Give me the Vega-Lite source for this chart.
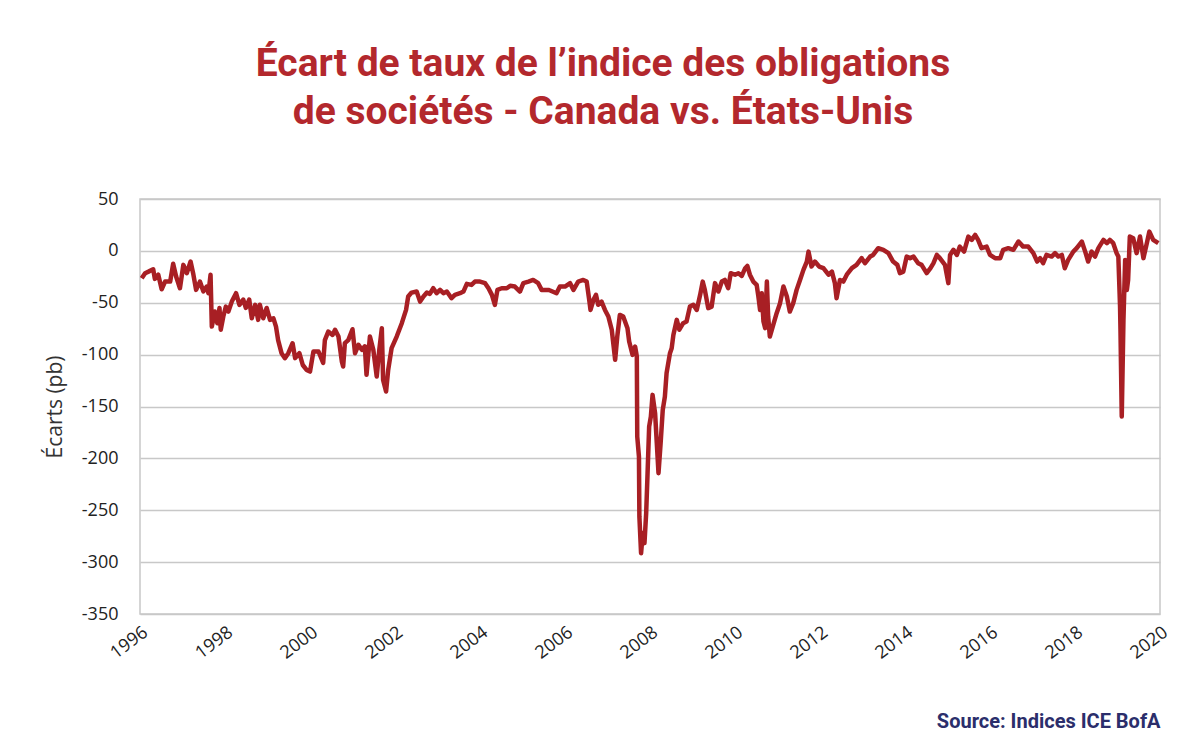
{
  "$schema": "https://vega.github.io/schema/vega-lite/v6.json",
  "width": 1020,
  "height": 415,
  "autosize": {"type": "none"},
  "padding": {"left": 140, "top": 199, "right": 40, "bottom": 131},
  "background": "white",
  "config": {
    "view": {"stroke": "#C8C8C8", "strokeWidth": 1.5},
    "font": "Open Sans"
  },
  "title": {
    "text": ["Écart de taux de l’indice des obligations", "de sociétés - Canada vs. États-Unis"],
    "anchor": "middle",
    "frame": "group",
    "dx": -47,
    "offset": 58,
    "font": "Roboto",
    "fontWeight": "bold",
    "fontSize": 39,
    "lineHeight": 48,
    "color": "#B3282D"
  },
  "data": {
    "values": [
      {"annee": 1996.04, "ecart": -26.3},
      {"annee": 1996.12, "ecart": -21.5},
      {"annee": 1996.20, "ecart": -20},
      {"annee": 1996.31, "ecart": -17.7},
      {"annee": 1996.35, "ecart": -27},
      {"annee": 1996.43, "ecart": -23},
      {"annee": 1996.51, "ecart": -37},
      {"annee": 1996.59, "ecart": -29.6},
      {"annee": 1996.71, "ecart": -29.6},
      {"annee": 1996.78, "ecart": -12.5},
      {"annee": 1996.85, "ecart": -24.7},
      {"annee": 1996.94, "ecart": -36},
      {"annee": 1997.02, "ecart": -13.5},
      {"annee": 1997.10, "ecart": -21.5},
      {"annee": 1997.19, "ecart": -10.3},
      {"annee": 1997.25, "ecart": -21.5},
      {"annee": 1997.32, "ecart": -37.6},
      {"annee": 1997.41, "ecart": -29.6},
      {"annee": 1997.49, "ecart": -39},
      {"annee": 1997.57, "ecart": -34.4},
      {"annee": 1997.61, "ecart": -40.8},
      {"annee": 1997.66, "ecart": -23},
      {"annee": 1997.69, "ecart": -73},
      {"annee": 1997.76, "ecart": -58.5},
      {"annee": 1997.82, "ecart": -69.7},
      {"annee": 1997.87, "ecart": -55},
      {"annee": 1997.90, "ecart": -76},
      {"annee": 1997.96, "ecart": -63.3},
      {"annee": 1998.02, "ecart": -53.7},
      {"annee": 1998.08, "ecart": -58.5},
      {"annee": 1998.16, "ecart": -48.9},
      {"annee": 1998.26, "ecart": -40.8},
      {"annee": 1998.34, "ecart": -52},
      {"annee": 1998.43, "ecart": -47},
      {"annee": 1998.49, "ecart": -55},
      {"annee": 1998.57, "ecart": -47},
      {"annee": 1998.63, "ecart": -65},
      {"annee": 1998.71, "ecart": -52},
      {"annee": 1998.78, "ecart": -66.5},
      {"annee": 1998.82, "ecart": -52},
      {"annee": 1998.90, "ecart": -65},
      {"annee": 1998.98, "ecart": -55},
      {"annee": 1999.06, "ecart": -66.5},
      {"annee": 1999.14, "ecart": -65},
      {"annee": 1999.20, "ecart": -73},
      {"annee": 1999.25, "ecart": -86},
      {"annee": 1999.33, "ecart": -98.6},
      {"annee": 1999.41, "ecart": -103.4},
      {"annee": 1999.49, "ecart": -98.6},
      {"annee": 1999.59, "ecart": -89},
      {"annee": 1999.65, "ecart": -103.4},
      {"annee": 1999.75, "ecart": -98.6},
      {"annee": 1999.83, "ecart": -110},
      {"annee": 1999.92, "ecart": -114.7},
      {"annee": 2000.00, "ecart": -116.3},
      {"annee": 2000.08, "ecart": -97},
      {"annee": 2000.20, "ecart": -97},
      {"annee": 2000.31, "ecart": -108},
      {"annee": 2000.35, "ecart": -86},
      {"annee": 2000.43, "ecart": -77.8},
      {"annee": 2000.53, "ecart": -81},
      {"annee": 2000.59, "ecart": -76},
      {"annee": 2000.67, "ecart": -82.6},
      {"annee": 2000.75, "ecart": -106.7},
      {"annee": 2000.78, "ecart": -111.5},
      {"annee": 2000.82, "ecart": -89},
      {"annee": 2000.90, "ecart": -86},
      {"annee": 2001.00, "ecart": -75.5},
      {"annee": 2001.06, "ecart": -98.6},
      {"annee": 2001.14, "ecart": -90.6},
      {"annee": 2001.22, "ecart": -95.4},
      {"annee": 2001.29, "ecart": -92},
      {"annee": 2001.33, "ecart": -119.5},
      {"annee": 2001.41, "ecart": -82.6},
      {"annee": 2001.49, "ecart": -95.4},
      {"annee": 2001.57, "ecart": -121},
      {"annee": 2001.63, "ecart": -95.4},
      {"annee": 2001.69, "ecart": -74.5},
      {"annee": 2001.72, "ecart": -124.3},
      {"annee": 2001.79, "ecart": -135.6},
      {"annee": 2001.84, "ecart": -114.7},
      {"annee": 2001.92, "ecart": -93.8},
      {"annee": 2002.04, "ecart": -82.6},
      {"annee": 2002.16, "ecart": -69.7},
      {"annee": 2002.26, "ecart": -56.9},
      {"annee": 2002.31, "ecart": -44},
      {"annee": 2002.39, "ecart": -40.2},
      {"annee": 2002.51, "ecart": -39.2},
      {"annee": 2002.59, "ecart": -48.9},
      {"annee": 2002.67, "ecart": -44},
      {"annee": 2002.75, "ecart": -40.2},
      {"annee": 2002.82, "ecart": -41.4},
      {"annee": 2002.90, "ecart": -36},
      {"annee": 2002.98, "ecart": -40.8},
      {"annee": 2003.06, "ecart": -37.6},
      {"annee": 2003.14, "ecart": -40.8},
      {"annee": 2003.22, "ecart": -39.2},
      {"annee": 2003.33, "ecart": -45.6},
      {"annee": 2003.41, "ecart": -42.4},
      {"annee": 2003.53, "ecart": -40.8},
      {"annee": 2003.61, "ecart": -39.2},
      {"annee": 2003.69, "ecart": -31.8},
      {"annee": 2003.80, "ecart": -32.8},
      {"annee": 2003.88, "ecart": -29.6},
      {"annee": 2004.00, "ecart": -29.6},
      {"annee": 2004.12, "ecart": -31.1},
      {"annee": 2004.20, "ecart": -36},
      {"annee": 2004.28, "ecart": -42.4},
      {"annee": 2004.35, "ecart": -52},
      {"annee": 2004.41, "ecart": -37.6},
      {"annee": 2004.51, "ecart": -36},
      {"annee": 2004.63, "ecart": -36},
      {"annee": 2004.71, "ecart": -33.7},
      {"annee": 2004.82, "ecart": -34.4},
      {"annee": 2004.94, "ecart": -39.2},
      {"annee": 2005.02, "ecart": -31.1},
      {"annee": 2005.14, "ecart": -29.6},
      {"annee": 2005.25, "ecart": -28},
      {"annee": 2005.37, "ecart": -31.1},
      {"annee": 2005.45, "ecart": -37.6},
      {"annee": 2005.61, "ecart": -37.6},
      {"annee": 2005.65, "ecart": -38.2},
      {"annee": 2005.80, "ecart": -40.8},
      {"annee": 2005.88, "ecart": -34.4},
      {"annee": 2006.00, "ecart": -34.4},
      {"annee": 2006.12, "ecart": -31.1},
      {"annee": 2006.20, "ecart": -37.6},
      {"annee": 2006.31, "ecart": -29.6},
      {"annee": 2006.43, "ecart": -28},
      {"annee": 2006.51, "ecart": -29.6},
      {"annee": 2006.57, "ecart": -47.2},
      {"annee": 2006.60, "ecart": -56.9},
      {"annee": 2006.67, "ecart": -47.2},
      {"annee": 2006.73, "ecart": -42.4},
      {"annee": 2006.78, "ecart": -52},
      {"annee": 2006.86, "ecart": -48.9},
      {"annee": 2006.94, "ecart": -56.9},
      {"annee": 2007.02, "ecart": -63.3},
      {"annee": 2007.10, "ecart": -76},
      {"annee": 2007.18, "ecart": -105},
      {"annee": 2007.23, "ecart": -82.6},
      {"annee": 2007.29, "ecart": -61.7},
      {"annee": 2007.37, "ecart": -63.3},
      {"annee": 2007.47, "ecart": -74.5},
      {"annee": 2007.51, "ecart": -87.4},
      {"annee": 2007.59, "ecart": -100.2},
      {"annee": 2007.65, "ecart": -92.2},
      {"annee": 2007.69, "ecart": -101.8},
      {"annee": 2007.70, "ecart": -179},
      {"annee": 2007.74, "ecart": -198.3},
      {"annee": 2007.75, "ecart": -256},
      {"annee": 2007.79, "ecart": -291.4},
      {"annee": 2007.83, "ecart": -272},
      {"annee": 2007.87, "ecart": -281.7},
      {"annee": 2007.91, "ecart": -252.8},
      {"annee": 2007.94, "ecart": -217.5},
      {"annee": 2007.98, "ecart": -169.3},
      {"annee": 2008.02, "ecart": -159.7},
      {"annee": 2008.06, "ecart": -138.8},
      {"annee": 2008.12, "ecart": -156.5},
      {"annee": 2008.16, "ecart": -185.3},
      {"annee": 2008.20, "ecart": -214.3},
      {"annee": 2008.25, "ecart": -185.3},
      {"annee": 2008.30, "ecart": -153.3},
      {"annee": 2008.35, "ecart": -140.4},
      {"annee": 2008.39, "ecart": -117.9},
      {"annee": 2008.47, "ecart": -98.6},
      {"annee": 2008.51, "ecart": -93.8},
      {"annee": 2008.55, "ecart": -81},
      {"annee": 2008.63, "ecart": -66.5},
      {"annee": 2008.69, "ecart": -76},
      {"annee": 2008.78, "ecart": -69.7},
      {"annee": 2008.86, "ecart": -68.1},
      {"annee": 2008.94, "ecart": -53.7},
      {"annee": 2009.02, "ecart": -52},
      {"annee": 2009.10, "ecart": -56.9},
      {"annee": 2009.18, "ecart": -42.4},
      {"annee": 2009.24, "ecart": -29.6},
      {"annee": 2009.29, "ecart": -37.6},
      {"annee": 2009.37, "ecart": -55.2},
      {"annee": 2009.45, "ecart": -53.7},
      {"annee": 2009.53, "ecart": -31.1},
      {"annee": 2009.61, "ecart": -39.2},
      {"annee": 2009.69, "ecart": -29.6},
      {"annee": 2009.76, "ecart": -28},
      {"annee": 2009.84, "ecart": -36},
      {"annee": 2009.90, "ecart": -21.5},
      {"annee": 2010.00, "ecart": -23},
      {"annee": 2010.08, "ecart": -21.5},
      {"annee": 2010.16, "ecart": -24.1},
      {"annee": 2010.24, "ecart": -16.7},
      {"annee": 2010.29, "ecart": -14.5},
      {"annee": 2010.35, "ecart": -23},
      {"annee": 2010.43, "ecart": -29.6},
      {"annee": 2010.51, "ecart": -32.8},
      {"annee": 2010.55, "ecart": -44},
      {"annee": 2010.59, "ecart": -56.9},
      {"annee": 2010.63, "ecart": -40.8},
      {"annee": 2010.67, "ecart": -68.1},
      {"annee": 2010.71, "ecart": -74.5},
      {"annee": 2010.75, "ecart": -29.6},
      {"annee": 2010.78, "ecart": -63.3},
      {"annee": 2010.82, "ecart": -82.6},
      {"annee": 2010.90, "ecart": -71.3},
      {"annee": 2010.98, "ecart": -60.1},
      {"annee": 2011.06, "ecart": -50.4},
      {"annee": 2011.14, "ecart": -34.4},
      {"annee": 2011.22, "ecart": -44},
      {"annee": 2011.29, "ecart": -58.5},
      {"annee": 2011.37, "ecart": -50.4},
      {"annee": 2011.45, "ecart": -37.6},
      {"annee": 2011.53, "ecart": -28},
      {"annee": 2011.61, "ecart": -18.3},
      {"annee": 2011.69, "ecart": -10.3},
      {"annee": 2011.73, "ecart": -0.7},
      {"annee": 2011.80, "ecart": -15.1},
      {"annee": 2011.88, "ecart": -10.3},
      {"annee": 2011.98, "ecart": -15.1},
      {"annee": 2012.08, "ecart": -16.7},
      {"annee": 2012.20, "ecart": -23},
      {"annee": 2012.28, "ecart": -20},
      {"annee": 2012.35, "ecart": -31.1},
      {"annee": 2012.39, "ecart": -45.6},
      {"annee": 2012.47, "ecart": -28},
      {"annee": 2012.55, "ecart": -29.6},
      {"annee": 2012.63, "ecart": -23},
      {"annee": 2012.75, "ecart": -16.7},
      {"annee": 2012.86, "ecart": -13.5},
      {"annee": 2012.98, "ecart": -7},
      {"annee": 2013.06, "ecart": -11.9},
      {"annee": 2013.18, "ecart": -5.5},
      {"annee": 2013.25, "ecart": -3.9},
      {"annee": 2013.37, "ecart": 2.6},
      {"annee": 2013.49, "ecart": 1},
      {"annee": 2013.61, "ecart": -2.2},
      {"annee": 2013.72, "ecart": -10.3},
      {"annee": 2013.82, "ecart": -13.5},
      {"annee": 2013.88, "ecart": -21.5},
      {"annee": 2013.96, "ecart": -20},
      {"annee": 2014.04, "ecart": -5.5},
      {"annee": 2014.12, "ecart": -7},
      {"annee": 2014.20, "ecart": -5.5},
      {"annee": 2014.31, "ecart": -11.9},
      {"annee": 2014.39, "ecart": -13.5},
      {"annee": 2014.51, "ecart": -21.5},
      {"annee": 2014.60, "ecart": -16.7},
      {"annee": 2014.67, "ecart": -11.9},
      {"annee": 2014.75, "ecart": -3.9},
      {"annee": 2014.82, "ecart": -7},
      {"annee": 2014.94, "ecart": -13.5},
      {"annee": 2015.02, "ecart": -31.1},
      {"annee": 2015.06, "ecart": -3.9},
      {"annee": 2015.14, "ecart": 1},
      {"annee": 2015.22, "ecart": -3.9},
      {"annee": 2015.29, "ecart": 4.1},
      {"annee": 2015.39, "ecart": -0.7},
      {"annee": 2015.49, "ecart": 13.8},
      {"annee": 2015.57, "ecart": 10.6},
      {"annee": 2015.65, "ecart": 15.4},
      {"annee": 2015.72, "ecart": 10.6},
      {"annee": 2015.80, "ecart": 2.6},
      {"annee": 2015.92, "ecart": 4.1},
      {"annee": 2016.00, "ecart": -3.9},
      {"annee": 2016.12, "ecart": -7},
      {"annee": 2016.24, "ecart": -7},
      {"annee": 2016.31, "ecart": 1},
      {"annee": 2016.43, "ecart": 2.6},
      {"annee": 2016.55, "ecart": 1},
      {"annee": 2016.67, "ecart": 9},
      {"annee": 2016.78, "ecart": 4.1},
      {"annee": 2016.90, "ecart": 4.1},
      {"annee": 2017.02, "ecart": -2.2},
      {"annee": 2017.11, "ecart": -10.3},
      {"annee": 2017.18, "ecart": -7},
      {"annee": 2017.25, "ecart": -11.9},
      {"annee": 2017.33, "ecart": -3.9},
      {"annee": 2017.45, "ecart": -5.5},
      {"annee": 2017.53, "ecart": -2.2},
      {"annee": 2017.61, "ecart": -5.5},
      {"annee": 2017.69, "ecart": -3.9},
      {"annee": 2017.76, "ecart": -16.7},
      {"annee": 2017.84, "ecart": -8.7},
      {"annee": 2017.96, "ecart": -0.7},
      {"annee": 2018.04, "ecart": 2.6},
      {"annee": 2018.16, "ecart": 9},
      {"annee": 2018.24, "ecart": -0.7},
      {"annee": 2018.31, "ecart": -10.3},
      {"annee": 2018.39, "ecart": -0.7},
      {"annee": 2018.47, "ecart": -5.5},
      {"annee": 2018.55, "ecart": 2.6},
      {"annee": 2018.67, "ecart": 10.6},
      {"annee": 2018.75, "ecart": 7.4},
      {"annee": 2018.82, "ecart": 10.6},
      {"annee": 2018.90, "ecart": 7.4},
      {"annee": 2018.98, "ecart": -2.2},
      {"annee": 2019.02, "ecart": -5.5},
      {"annee": 2019.06, "ecart": -53.7},
      {"annee": 2019.07, "ecart": -76},
      {"annee": 2019.10, "ecart": -159.7},
      {"annee": 2019.14, "ecart": -66.5},
      {"annee": 2019.18, "ecart": -8.7},
      {"annee": 2019.22, "ecart": -37.6},
      {"annee": 2019.25, "ecart": -28},
      {"annee": 2019.29, "ecart": 13.8},
      {"annee": 2019.37, "ecart": 12.2},
      {"annee": 2019.45, "ecart": -2.2},
      {"annee": 2019.53, "ecart": 13.8},
      {"annee": 2019.61, "ecart": -7},
      {"annee": 2019.69, "ecart": 7.4},
      {"annee": 2019.75, "ecart": 18.6},
      {"annee": 2019.84, "ecart": 10.6},
      {"annee": 2019.96, "ecart": 7.4}
    ]
  },
  "mark": {"type": "line", "color": "#A81F24", "strokeWidth": 4.5, "strokeJoin": "round"},
  "encoding": {
    "x": {
      "field": "annee",
      "type": "quantitative",
      "scale": {"domain": [1996, 2020], "nice": false, "zero": false},
      "axis": {
        "values": [1996, 1998, 2000, 2002, 2004, 2006, 2008, 2010, 2012, 2014, 2016, 2018, 2020],
        "format": "d",
        "grid": false,
        "ticks": false,
        "domain": false,
        "labelAngle": -37,
        "labelAlign": "right",
        "labelBaseline": "top",
        "labelPadding": 9,
        "labelFont": "Open Sans",
        "labelFontSize": 18,
        "labelColor": "#222222",
        "labelFlush": false,
        "labelOverlap": false,
        "title": "Source: Indices ICE BofA",
        "titleX": 1020,
        "titleY": 107,
        "titleAlign": "right",
        "titleBaseline": "middle",
        "titleFont": "Roboto",
        "titleFontWeight": "bold",
        "titleFontSize": 20,
        "titleColor": "#2B2E6B"
      }
    },
    "y": {
      "field": "ecart",
      "type": "quantitative",
      "scale": {"domain": [-350, 50], "nice": false, "zero": false},
      "axis": {
        "values": [-350, -300, -250, -200, -150, -100, -50, 0, 50],
        "labelExpr": "datum.value + ''",
        "grid": true,
        "gridColor": "#C8C8C8",
        "gridWidth": 1.5,
        "ticks": false,
        "domain": false,
        "labelPadding": 22,
        "labelFont": "Open Sans",
        "labelFontSize": 18,
        "labelColor": "#222222",
        "title": "Écarts (pb)",
        "titleX": -85,
        "titleY": 207.5,
        "titleAlign": "center",
        "titleBaseline": "middle",
        "titleFont": "Open Sans",
        "titleFontWeight": "normal",
        "titleFontSize": 21,
        "titleColor": "#333333"
      }
    }
  }
}
